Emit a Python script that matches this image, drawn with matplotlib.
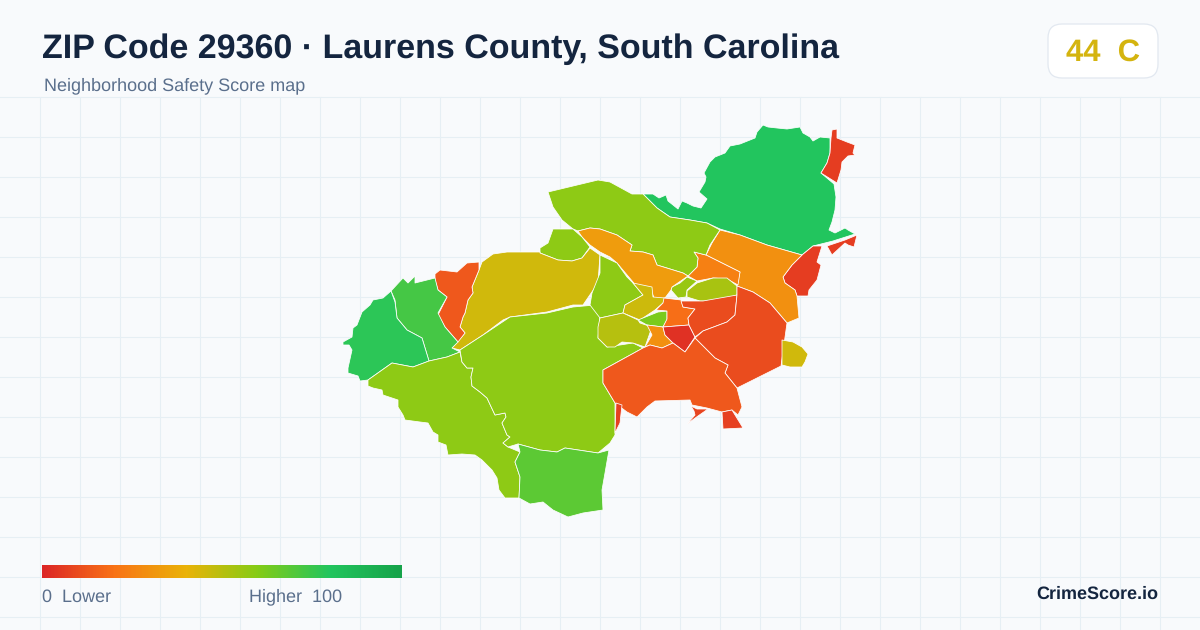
import matplotlib
matplotlib.use("Agg")
import matplotlib.pyplot as plt
import numpy as np
from matplotlib.colors import LinearSegmentedColormap
from matplotlib.patches import FancyBboxPatch

plt.rcParams['font.family'] = ['Liberation Sans', 'DejaVu Sans']
plt.rcParams['text.hinting'] = 'no_hinting'
plt.rcParams['text.hinting_factor'] = 1

title = "ZIP Code 29360 · Laurens County, South Carolina"
subtitle = "Neighborhood Safety Score map"
score_text = "44  C"

# colour scale of the legend
scale_stops = [0.0, 0.2, 0.4, 0.6, 0.8, 1.0]
scale_colors = ['#dc2626', '#f97316', '#eab308', '#84cc16', '#22c55e', '#16a34a']

# tract outlines in picture pixels, score
north_green = [(643,194),(653,194),(659,198),(666,195),(668,201),(673,205),(678,209),(682,201),(687,203),(693,206),(701,208),(707,199),(699,192),(705,182),(706,177),(704,173),(710,162),(715,157),(725,153),(730,146),(740,144),(745,142),(755,138),(757,132),(763,125),(768,127),(777,128),(787,129),(800,127),(803,133),(810,137),(813,141),(820,137),(830,138),(830,153),(827,163),(821,173),(834,184),(836,197),(835,210),(832,222),(829,230),(835,233),(845,228),(848,230),(855,234),(833,241),(813,246),(802,255),(767,245),(740,235),(720,229),(707,223),(690,220),(670,217),(657,208)]
ne_red = [(832,130),(837,129),(837,138),(847,142),(855,145),(853,153),(855,155),(848,156),(842,162),(841,170),(837,183),(821,173),(827,163),(830,153),(831,138)]
east_sliver = [(827,246),(845,240),(857,235),(854,247),(848,245),(845,243),(832,255)]
east_strip = [(813,246),(822,246),(817,262),(821,265),(817,280),(809,290),(808,296),(797,296),(795,290),(785,283),(783,277),(792,265),(802,255)]
ne_amber = [(720,230),(740,235),(767,245),(802,255),(792,265),(783,277),(785,283),(795,290),(797,296),(799,318),(787,323),(770,303),(753,292),(737,286),(740,272),(706,255),(712,243)]
small_orange = [(694,252),(698,258),(697,267),(688,276),(697,281),(713,278),(727,279),(738,285),(740,272),(706,255)]
olive_center = [(687,291),(697,283),(713,278),(727,278),(737,286),(737,295),(717,301),(700,301),(687,297)]
small_lime = [(672,287),(680,283),(687,277),(697,281),(687,290),(686,297),(678,298),(671,290)]
north_lime = [(548,192),(598,180),(610,182),(632,194),(643,194),(657,208),(670,217),(690,220),(707,223),(720,230),(710,245),(706,255),(694,252),(698,258),(697,267),(688,276),(683,273),(657,265),(653,255),(643,252),(630,251),(632,245),(617,235),(600,229),(590,228),(578,231),(573,229),(562,220),(553,207)]
winding_amber = [(578,231),(590,228),(600,229),(617,235),(632,245),(630,251),(643,252),(653,255),(657,265),(683,273),(688,276),(672,287),(671,290),(665,298),(655,300),(650,288),(635,285),(633,282),(617,263),(610,257),(600,252),(590,245),(582,237)]
nw_lime = [(553,229),(573,229),(582,237),(590,247),(582,258),(572,261),(558,260),(540,253),(540,248),(548,243)]
west_yellow = [(482,262),(493,254),(507,252),(540,252),(540,253),(558,260),(572,261),(582,258),(590,248),(600,255),(598,283),(583,305),(573,305),(547,312),(510,317),(503,320),(483,335),(460,350),(452,348),(465,333),(460,327),(463,317),(465,313),(468,300),(473,293),(472,287),(479,270)]
west_orange = [(435,274),(440,270),(457,272),(467,263),(479,262),(479,270),(472,287),(473,293),(468,300),(465,313),(463,317),(460,327),(465,333),(458,342),(445,327),(438,315),(447,297),(438,290),(435,280)]
west_green = [(391,291),(403,278),(408,283),(415,276),(415,283),(435,278),(438,290),(447,297),(438,313),(445,327),(458,342),(452,348),(460,352),(447,357),(429,361),(422,338),(407,330),(397,318),(395,300)]
far_west = [(362,312),(370,305),(373,300),(383,298),(391,291),(395,302),(397,318),(407,330),(422,338),(429,361),(413,367),(392,363),(368,380),(360,381),(358,376),(348,373),(348,368),(352,350),(349,345),(343,345),(343,342),(352,337),(353,328),(357,325)]
sw_lime = [(368,380),(392,363),(413,367),(429,361),(447,357),(460,352),(462,362),(467,368),(473,368),(471,377),(472,386),(480,392),(487,398),(495,415),(505,413),(506,417),(502,423),(507,435),(510,437),(503,443),(508,447),(520,452),(515,462),(520,477),(519,498),(505,498),(499,490),(497,478),(492,470),(482,460),(475,455),(462,454),(448,455),(446,445),(438,442),(438,435),(433,432),(428,423),(420,422),(405,420),(403,415),(398,407),(398,400),(383,395),(382,390),(373,388),(368,386)]
central_lime = [(460,350),(483,335),(510,317),(547,313),(573,307),(595,305),(600,315),(598,338),(607,347),(633,343),(643,348),(603,370),(603,383),(615,403),(615,435),(610,443),(598,453),(565,448),(557,452),(540,450),(518,444),(508,447),(503,443),(510,437),(507,435),(502,423),(506,417),(505,413),(495,415),(487,398),(480,392),(472,386),(471,377),(473,368),(467,368),(462,362)]
south_lime = [(518,444),(540,450),(557,452),(565,448),(598,453),(609,450),(605,473),(602,490),(603,510),(583,513),(568,517),(553,510),(543,502),(530,504),(519,498),(520,477),(515,462),(520,452)]
mid_lime = [(600,255),(617,263),(627,277),(633,283),(643,295),(625,305),(623,313),(600,318),(590,305),(592,293),(600,273)]
mid_yellow = [(633,283),(652,287),(653,297),(665,298),(663,303),(655,310),(640,320),(623,313),(625,305),(643,295)]
mid_olive = [(600,318),(623,313),(638,320),(640,323),(652,327),(645,347),(633,343),(622,342),(615,347),(607,347),(598,338),(598,327)]
bright_lime = [(638,320),(658,312),(667,311),(667,320),(663,327),(647,325)]
small_amber = [(647,325),(663,327),(665,335),(673,343),(662,348),(650,345),(645,347),(652,335)]
core_orange = [(664,298),(681,300),(683,307),(695,309),(688,318),(689,325),(663,327),(667,319),(667,311),(656,310),(663,303)]
core_red = [(663,327),(689,325),(695,337),(685,352),(673,343),(665,335)]
north_red = [(681,301),(703,301),(737,295),(735,315),(727,322),(703,331),(695,337),(689,325),(688,318),(695,309),(683,307)]
east_red = [(737,286),(753,292),(770,303),(787,323),(781,366),(737,388),(725,373),(728,365),(715,358),(705,348),(695,338),(703,331),(727,322),(735,315),(737,295)]
south_orange = [(643,348),(650,345),(662,348),(673,343),(685,352),(695,338),(705,348),(715,358),(728,365),(725,373),(737,388),(742,407),(738,415),(732,410),(722,412),(707,408),(692,405),(690,400),(655,401),(647,407),(637,417),(627,412),(615,403),(603,383),(603,370)]
south_sliver = [(691,406),(697,409),(708,409),(698,416),(687,424),(695,415),(694,411)]
south_red = [(722,412),(732,410),(743,428),(723,429)]
left_sliver = [(616,403),(622,405),(620,423),(615,433)]
east_yellow = [(782,340),(793,342),(802,347),(808,354),(805,362),(802,367),(790,367),(782,365)]

tracts = [north_green, ne_red, east_sliver, east_strip, ne_amber, small_orange, olive_center,
          small_lime, north_lime, winding_amber, nw_lime, west_yellow, west_orange, west_green,
          far_west, sw_lime, central_lime, south_lime, mid_lime, mid_yellow, mid_olive,
          bright_lime, small_amber, core_orange, core_red, north_red, east_red, south_orange,
          south_sliver, south_red, left_sliver, east_yellow]
scores = [80, 6, 6, 6, 29, 24, 53, 56, 58, 33, 58, 45, 13, 73,
          78, 58, 58, 68, 58, 46, 50, 62, 29, 19, 3, 10, 10, 13,
          8, 7, 7, 45]

cmap = LinearSegmentedColormap.from_list('safety', list(zip(scale_stops, scale_colors)))

fig = plt.figure(figsize=(12, 6.3), dpi=100, facecolor='#f8fafc')
ax = fig.add_axes([0, 0, 1, 1])
ax.set_xlim(0, 1200)
ax.set_ylim(630, 0)
ax.axis('off')

# background grid, only below the header
for gx in np.arange(40, 1200, 40):
    ax.plot([gx, gx], [97, 630], color='#e6eff4', lw=0.75, zorder=1)
for gy in np.arange(97, 630, 40):
    ax.plot([0, 1200], [gy, gy], color='#e6eff4', lw=0.75, zorder=1)

for outline, score in zip(tracts, scores):
    xs, ys = zip(*outline)
    ax.fill(xs, ys, facecolor=cmap(score / 100), edgecolor='#ffffff', lw=0.55, zorder=2,
            joinstyle='round')

ax.text(42, 49.5, title, fontsize=24.5, fontweight='bold', color='#14253f', va='center', ha='left')
ax.text(44, 85.5, subtitle, fontsize=12.9, color='#5a6f8c', va='center', ha='left')

# score badge
badge = FancyBboxPatch((1062, 38), 82, 26, boxstyle='round,pad=14,rounding_size=14',
                       facecolor='#ffffff', edgecolor='#e2e8f0', lw=0.9, zorder=3)
ax.add_patch(badge)
ax.text(1103, 53, score_text, fontsize=22, fontweight='bold', color='#d4b40f', va='center',
        ha='center', zorder=4)

# legend
gradient = np.linspace(0, 1, 360).reshape(1, -1)
ax.imshow(gradient, cmap=cmap, extent=(42, 402, 578, 565), aspect='auto', zorder=3)
ax.set_xlim(0, 1200)
ax.set_ylim(630, 0)
ax.text(42, 597, "0  Lower", fontsize=12.9, color='#5a6f8c', va='center', ha='left')
ax.text(249, 597, "Higher  100", fontsize=12.9, color='#5a6f8c', va='center', ha='left')
ax.text(1158, 594, "CrimeScore.io", fontsize=13, fontweight='bold', color='#14253f',
        va='center', ha='right')

fig.savefig('out.png', dpi=100, facecolor=fig.get_facecolor())
